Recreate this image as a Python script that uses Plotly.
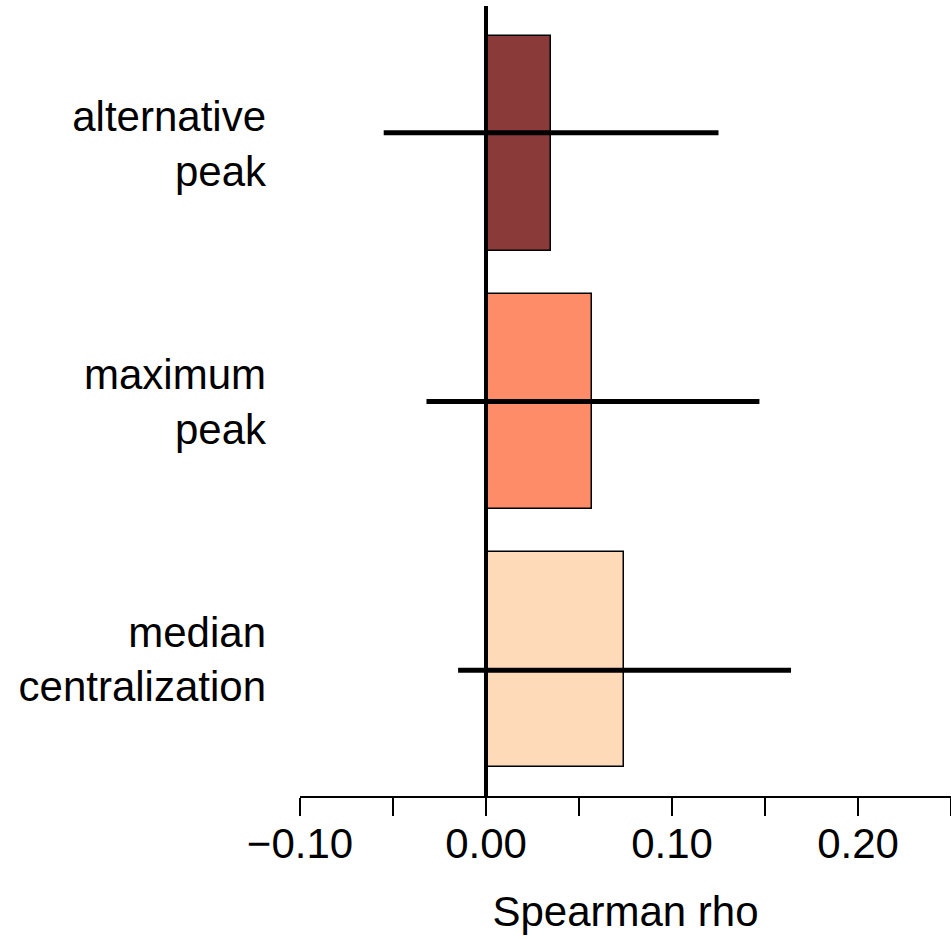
import plotly.graph_objects as go

# Data (bottom to top)
categories = ["median<br>centralization", "maximum<br>peak", "alternative<br>peak"]
rho = [0.074, 0.057, 0.035]
ci_low = [-0.015, -0.032, -0.055]
ci_high = [0.164, 0.147, 0.125]
bar_pos = [0.7, 1.9, 3.1]
ci_pos = [0.65, 1.9, 3.15]
colors = ["#FFDAB9", "#FF8C69", "#8B3A3A"]
x_tickvals = [-0.10, 0.00, 0.10, 0.20]
x_ticktext = ["\u22120.10", "0.00", "0.10", "0.20"]

FONT = "Liberation Sans, Arial, Helvetica, sans-serif"

fig = go.Figure()
fig.add_trace(go.Bar(
    y=bar_pos, x=rho, orientation="h", width=1.0,
    marker=dict(color=colors, line=dict(color="black", width=1.5)),
    showlegend=False, hoverinfo="skip",
))

# zero reference line
fig.add_shape(type="line", xref="x", yref="paper", x0=0, x1=0, y0=0, y1=1,
              line=dict(color="black", width=4), layer="above")

for lo, hi, yy in zip(ci_low, ci_high, ci_pos):
    fig.add_trace(go.Scatter(
        x=[lo, hi], y=[yy, yy], mode="lines",
        line=dict(color="black", width=5), showlegend=False, hoverinfo="skip",
    ))

fig.update_layout(
    width=951, height=939,
    margin=dict(l=300, r=0, t=6, b=143),
    paper_bgcolor="white", plot_bgcolor="white",
    font=dict(family=FONT, size=42, color="black"),
    bargap=0,
)
fig.update_xaxes(
    range=[-0.10, 0.25], showgrid=False, zeroline=False,
    showline=True, linecolor="black", linewidth=1.5,
    tickmode="array", tickvals=x_tickvals, ticktext=x_ticktext,
    ticks="outside", ticklen=18, tickwidth=1.5, tickcolor="black",
    minor=dict(tickmode="linear", tick0=-0.10, dtick=0.05, ticks="outside",
               ticklen=18, tickwidth=1.5, tickcolor="black", showgrid=False),
    tickfont=dict(size=42, family=FONT),
    ticklabelstandoff=-8,
    title=dict(text="Spearman rho", font=dict(size=42, family=FONT), standoff=30),
)
fig.update_yaxes(
    range=[0.065, 3.74], showgrid=False, zeroline=False, showline=False,
    tickmode="array", tickvals=bar_pos, ticktext=categories,
    ticks="", ticklabelstandoff=33,
    tickfont=dict(size=42, family=FONT),
)

fig.write_html("out.html")
